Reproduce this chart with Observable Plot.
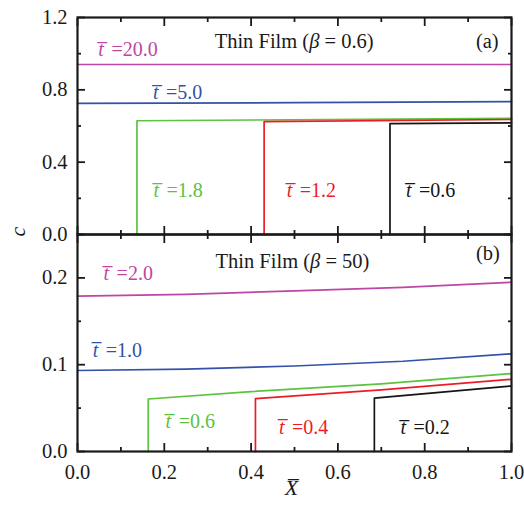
<!DOCTYPE html>
<html><head><meta charset="utf-8">
<script src="https://cdn.jsdelivr.net/npm/d3@7"></script>
<script src="https://cdn.jsdelivr.net/npm/@observablehq/plot@0.6"></script>
<style>
body{margin:0;background:#fff}
#c{position:relative;width:524px;height:505px}
#c svg{position:absolute;left:0}
#c svg text{font-family:"Liberation Serif" !important}
</style>
</head><body><div id="c"></div>
<script>
// ---------- data ----------
const seriesNames = ["m", "b", "g", "r", "k"];
const seriesColors = ["#bf45a5", "#3352a8", "#5cc33e", "#ed1c24", "#151515"];

// Panel (a): Thin Film, beta = 0.6
const aLabels = ["20.0", "5.0", "1.8", "1.2", "0.6"];
const aX = [
  [0, 0.5, 1],
  [0, 0.5, 1],
  [0.137, 0.137, 1],
  [0.430, 0.430, 1],
  [0.720, 0.720, 1]
];
const aC = [
  [0.940, 0.940, 0.940],
  [0.725, 0.729, 0.735],
  [0, 0.629, 0.642],
  [0, 0.624, 0.636],
  [0, 0.613, 0.617]
];

// Panel (b): Thin Film, beta = 50
const bLabels = ["2.0", "1.0", "0.6", "0.4", "0.2"];
const bX = [
  [0, 0.25, 0.5, 0.75, 1],
  [0, 0.25, 0.5, 0.75, 1],
  [0.163, 0.163, 0.4, 0.7, 1],
  [0.410, 0.410, 0.7, 1],
  [0.684, 0.684, 1]
];
const bC = [
  [0.179, 0.181, 0.185, 0.189, 0.195],
  [0.0933, 0.0950, 0.0985, 0.104, 0.1125],
  [0, 0.0605, 0.0690, 0.0780, 0.0898],
  [0, 0.0610, 0.0710, 0.0832],
  [0, 0.0616, 0.0755]
];

// annotation anchors (X, c) for the "t = ..." labels
const aLabelX = [0.048, 0.174, 0.175, 0.482, 0.757];
const aLabelC = [1.022, 0.783, 0.244, 0.244, 0.244];
const bLabelX = [0.060, 0.035, 0.203, 0.464, 0.744];
const bLabelC = [0.2054, 0.1168, 0.0347, 0.0281, 0.0270];

const xMajor = [0, 0.2, 0.4, 0.6, 0.8, 1.0];
const xMinor = [0.1, 0.3, 0.5, 0.7, 0.9];
const aYMajor = [0, 0.4, 0.8, 1.2];
const aYMinor = [0.2, 0.6, 1.0];
const bYMajor = [0, 0.1, 0.2];
const bYMinor = [0.05, 0.15, 0.25];

// ---------- helpers ----------
const FONT = "Liberation Serif";
const ctx = document.createElement("canvas").getContext("2d");
function tw(t, it, size) { ctx.font = `${it ? "italic " : ""}${size}px "${FONT}"`; return ctx.measureText(t).width; }
function rich(x, y, pieces, color, size) {
  let off = 0; const out = [];
  for (const p of pieces) {
    off += p.pad || 0;
    out.push(Plot.text([{x, y, t: p.t}], {x: "x", y: "y", text: "t", dx: off, textAnchor: "start",
      fill: color, fontSize: size, fontStyle: p.it ? "italic" : "normal", fontFamily: FONT}));
    off += tw(p.t, p.it, size);
  }
  return out;
}
function rows(X, C) {
  const r = [];
  X.forEach((xs, i) => xs.forEach((x, j) => r.push({X: x, c: C[i][j], s: seriesNames[i]})));
  return r;
}
const AX = "#1a1a1a", SW = 1.8;
function frameAxes(yMajor, yMinor) {
  const o = {stroke: AX, strokeWidth: SW, fill: "none", label: null};
  return [
    Plot.axisX(xMajor, {...o, anchor: "bottom", tickSize: -8}),
    Plot.axisX(xMinor, {...o, anchor: "bottom", tickSize: -4}),
    Plot.axisX(xMajor, {...o, anchor: "top", tickSize: -8}),
    Plot.axisX(xMinor, {...o, anchor: "top", tickSize: -4}),
    Plot.axisY(yMajor, {...o, anchor: "left", tickSize: -8}),
    Plot.axisY(yMinor, {...o, anchor: "left", tickSize: -4}),
    Plot.axisY(yMajor, {...o, anchor: "right", tickSize: -8}),
    Plot.axisY(yMinor, {...o, anchor: "right", tickSize: -4}),
    Plot.frame({stroke: AX, strokeWidth: 2.2})
  ];
}
const tbar = "t\u0305";
function tLabels(labels, LX, LC) {
  return labels.flatMap((lab, i) => rich(LX[i], LC[i], [{t: tbar, it: true}, {t: "=" + lab, it: false, pad: 7.5}], seriesColors[i], 20));
}
const common = {
  width: 524, marginLeft: 77, marginRight: 13,
  style: {fontFamily: FONT, fontSize: "20px", background: "none", overflow: "visible", color: "#1a1a1a"},
  x: {domain: [0, 1], axis: null},
  color: {domain: seriesNames, range: seriesColors}
};

// ---------- panel (a) ----------
const plotA = Plot.plot({
  ...common, height: 240, marginTop: 17, marginBottom: 6,
  y: {domain: [0, 1.2], axis: null},
  marks: [
    Plot.line(rows(aX, aC), {x: "X", y: "c", z: "s", stroke: "s", strokeWidth: 1.7}),
    Plot.axisY(aYMajor, {anchor: "left", tickSize: 0, tickPadding: 10, tickFormat: ".1f", label: null, fontSize: 20.5}),
    ...frameAxes(aYMajor, aYMinor),
    ...tLabels(aLabels, aLabelX, aLabelC),
    ...rich(0.316, 1.067, [{t: "Thin Film (", it: false}, {t: "\u03B2", it: true}, {t: " = 0.6)", it: false}], "#1a1a1a", 20.5),
    Plot.text(["(a)"], {x: () => 0.918, y: () => 1.067, textAnchor: "start", fontSize: 20.5, fill: "#1a1a1a"})
  ]
});
plotA.style.top = "0px";

// ---------- panel (b) ----------
const plotB = Plot.plot({
  ...common, height: 277, marginTop: 6, marginBottom: 54,
  y: {domain: [0, 0.25], axis: null},
  marks: [
    Plot.line(rows(bX, bC), {x: "X", y: "c", z: "s", stroke: "s", strokeWidth: 1.7}),
    Plot.axisY(bYMajor, {anchor: "left", tickSize: 0, tickPadding: 10, tickFormat: ".1f", label: null, fontSize: 20.5}),
    Plot.axisX(xMajor, {anchor: "bottom", tickSize: 0, tickPadding: 13, tickFormat: ".1f", label: null, fontSize: 20.5}),
    ...frameAxes(bYMajor, bYMinor),
    ...tLabels(bLabels, bLabelX, bLabelC),
    ...rich(0.318, 0.2189, [{t: "Thin Film (", it: false}, {t: "\u03B2", it: true}, {t: " = 50)", it: false}], "#1a1a1a", 20.5),
    Plot.text(["(b)"], {x: () => 0.918, y: () => 0.2286, textAnchor: "start", fontSize: 20.5, fill: "#1a1a1a"}),
    Plot.text(["X\u0305"], {frameAnchor: "bottom", dx: -3, dy: 43, fontStyle: "italic", fontSize: 22, fill: "#1a1a1a"}),
    Plot.text(["c"], {frameAnchor: "top-left", dx: -68, dy: 2, rotate: -90, fontStyle: "italic", fontSize: 22, fill: "#1a1a1a"})
  ]
});
plotB.style.top = "228px";

const c = document.getElementById("c");
c.appendChild(plotA);
c.appendChild(plotB);
</script>
</body></html>
